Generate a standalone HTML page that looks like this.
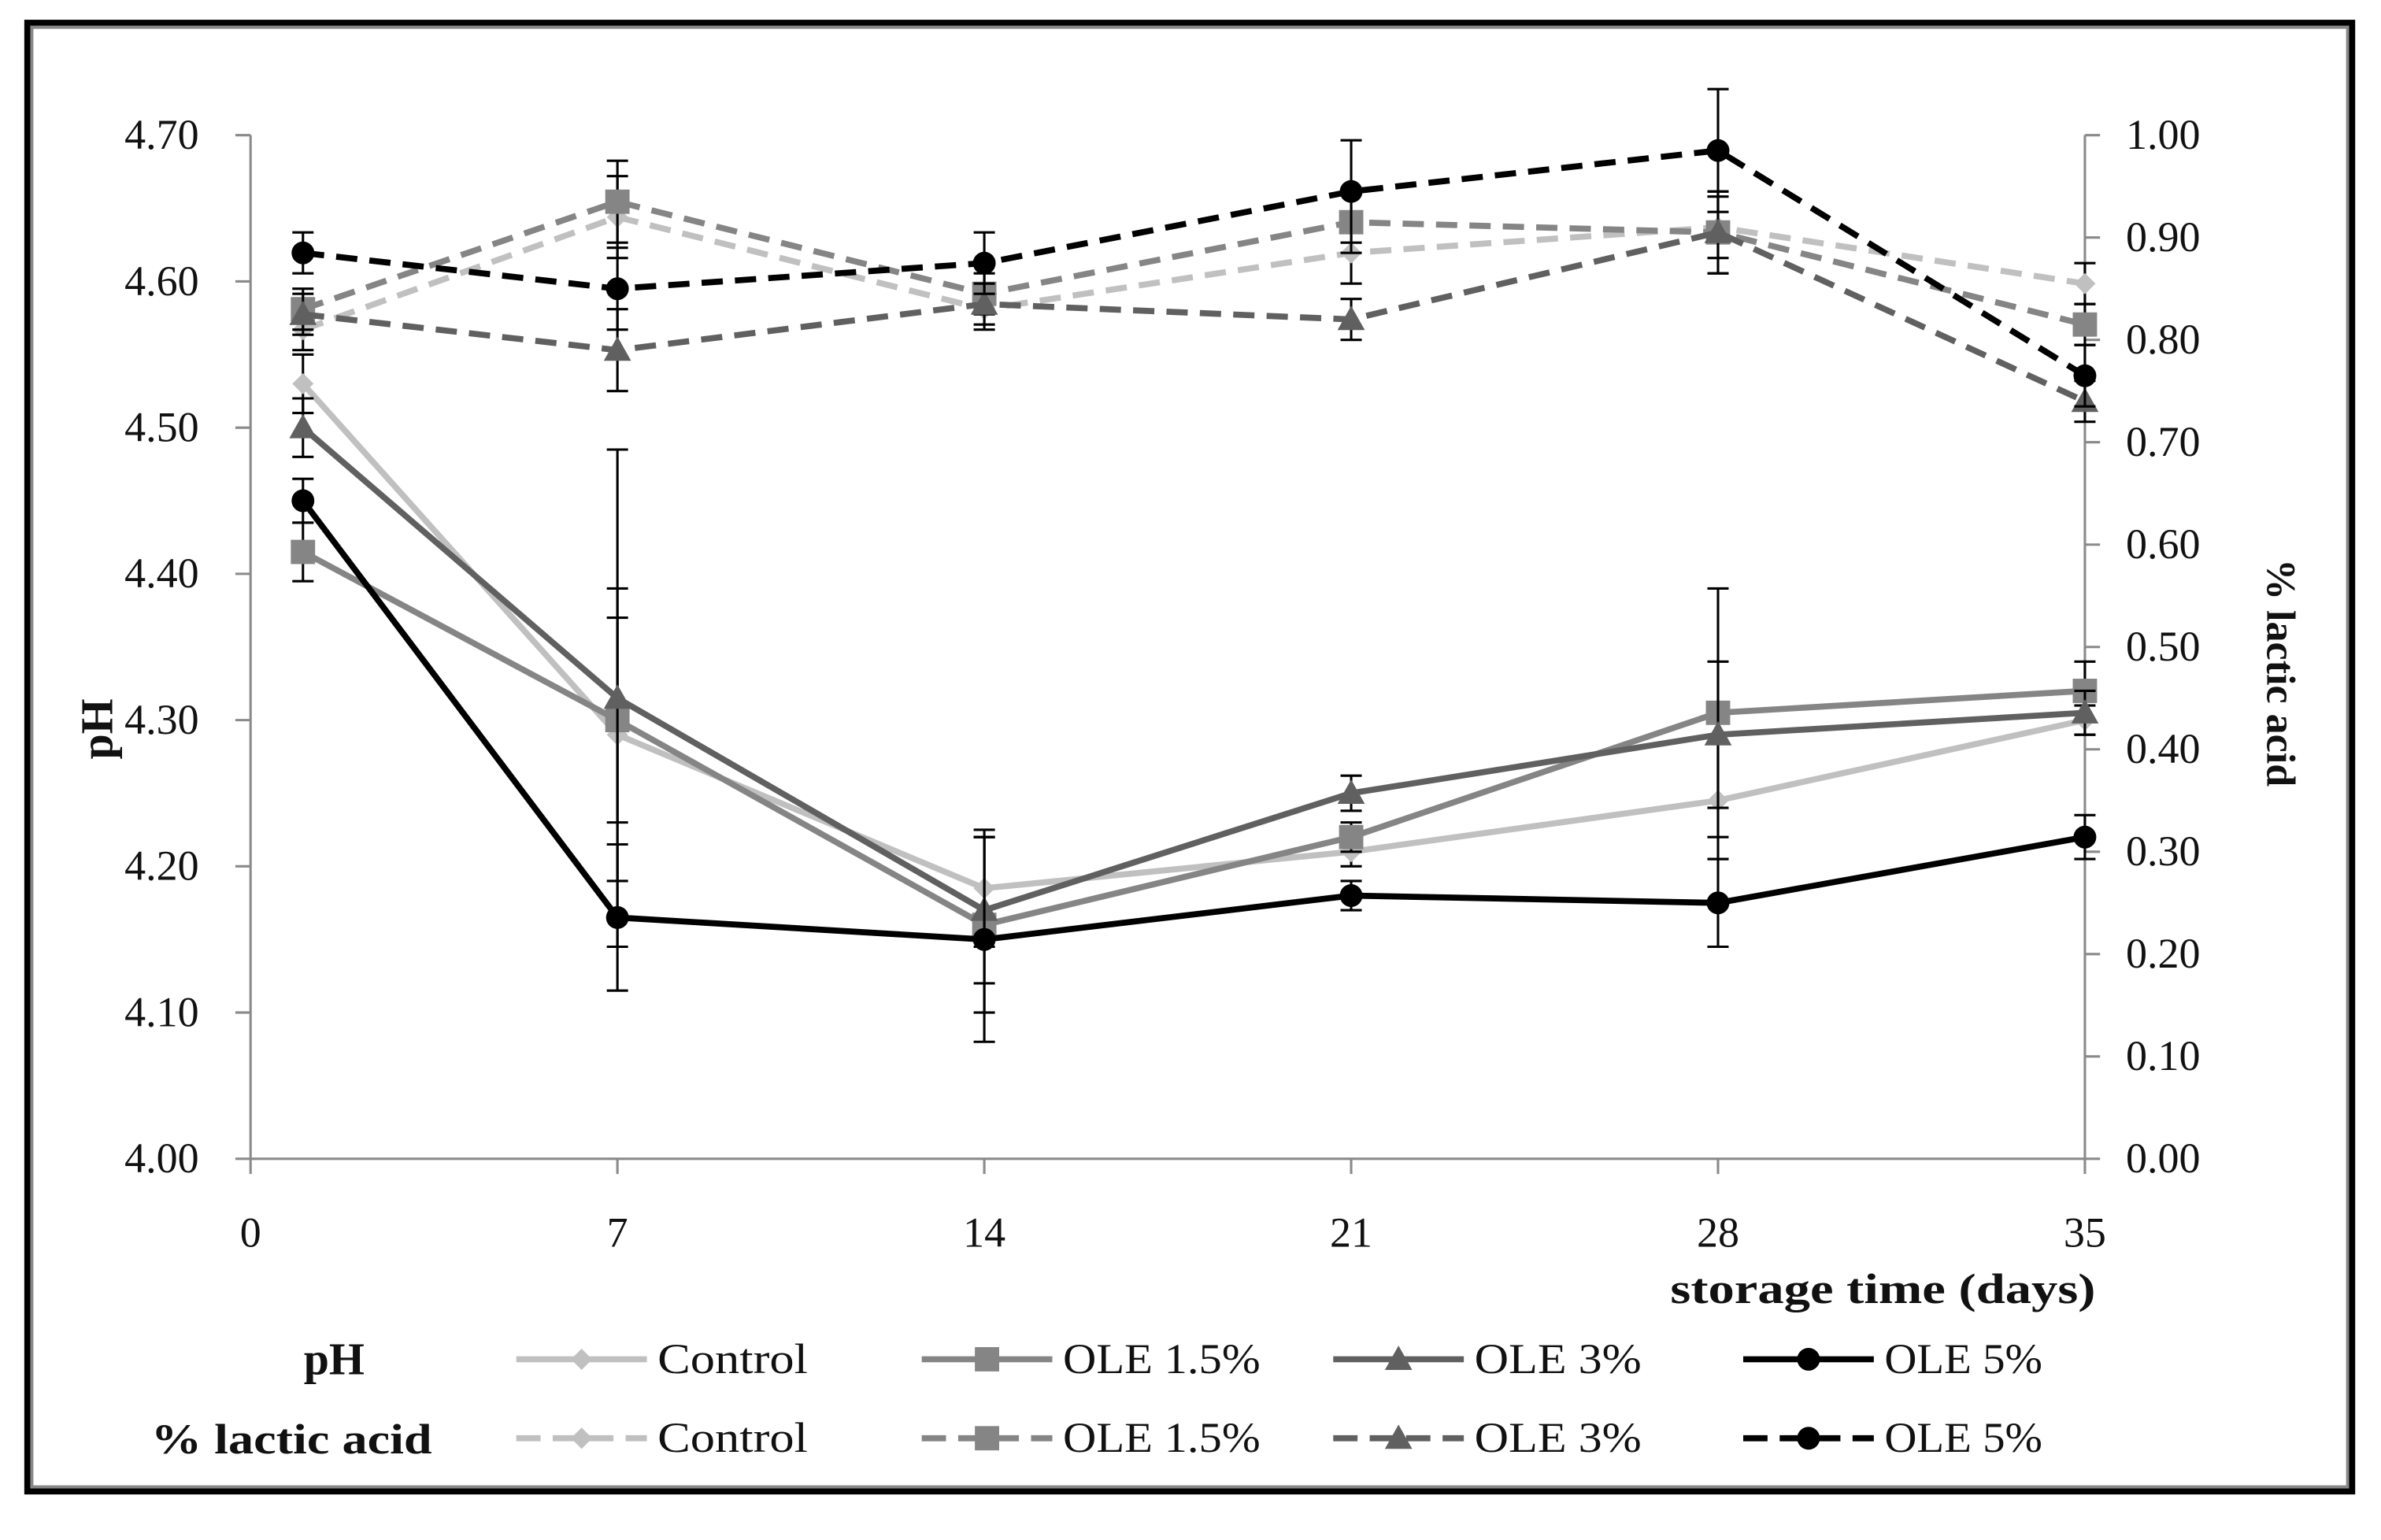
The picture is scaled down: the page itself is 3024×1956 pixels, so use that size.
<!DOCTYPE html>
<html><head><meta charset="utf-8"><style>
html,body{margin:0;padding:0;background:#fff;}
svg{display:block;}
text{font-family:"Liberation Serif",serif;fill:#111;}
</style></head><body>
<svg id="chart" width="3024" height="1956" viewBox="0 0 1568 1014" preserveAspectRatio="none" xmlns="http://www.w3.org/2000/svg">
<rect x="18" y="15" width="1531" height="967" fill="#fff" stroke="#000" stroke-width="4"/>
<rect x="21" y="18" width="1525" height="961" fill="none" stroke="#888" stroke-width="2"/>
<g id="axes"></g>
<g id="series"></g>
<g id="legend"></g>
</svg>
<script>
const days = [1, 7, 14, 21, 28, 35];
const xTicks = [0, 7, 14, 21, 28, 35];
const phTicks = ["4.00","4.10","4.20","4.30","4.40","4.50","4.60","4.70"];
const laTicks = ["0.00","0.10","0.20","0.30","0.40","0.50","0.60","0.70","0.80","0.90","1.00"];
const seriesNames = ["Control","OLE 1.5%","OLE 3%","OLE 5%"];
const phControl = [4.53, 4.29, 4.185, 4.21, 4.245, 4.30];
const phOle15 = [4.415, 4.30, 4.16, 4.22, 4.305, 4.32];
const phOle3 = [4.50, 4.315, 4.17, 4.25, 4.29, 4.305];
const phOle5 = [4.45, 4.165, 4.15, 4.18, 4.175, 4.22];
const phErrControl = [0.02, 0.10, 0.04, 0.01, 0.04, 0.01];
const phErrOle15 = [0.02, 0.07, 0.06, 0.01, 0.085, 0.02];
const phErrOle3 = [0.02, 0.17, 0.05, 0.012, 0.05, 0.015];
const phErrOle5 = [0.015, 0.05, 0.07, 0.01, 0.03, 0.015];
const laControl = [0.81, 0.92, 0.83, 0.885, 0.91, 0.855];
const laOle15 = [0.83, 0.935, 0.845, 0.915, 0.905, 0.815];
const laOle3 = [0.825, 0.79, 0.835, 0.82, 0.905, 0.74];
const laOle5 = [0.885, 0.85, 0.875, 0.945, 0.985, 0.765];
const laErrControl = [0.02, 0.04, 0.02, 0.03, 0.03, 0.02];
const laErrOle15 = [0.02, 0.04, 0.02, 0.03, 0.04, 0.02];
const laErrOle3 = [0.02, 0.04, 0.02, 0.02, 0.04, 0.02];
const laErrOle5 = [0.02, 0.04, 0.03, 0.05, 0.06, 0.03];

const NS = "http://www.w3.org/2000/svg";
const X0 = 165, X1 = 1373, YB = 763, YT = 89;
const xs = d => X0 + (d / 35) * (X1 - X0);
const yPh = v => YB - (v - 4.0) / 0.7 * (YB - YT);
const yLa = v => YB - v * (YB - YT);
function mk(tag, attrs, parent) {
  const e = document.createElementNS(NS, tag);
  for (const k in attrs) e.setAttribute(k, attrs[k]);
  parent.appendChild(e);
  return e;
}
const axes = document.getElementById('axes');
const AX = '#8a8a8a';
let el;
el = mk('line', {x1: X0, y1: YT, x2: X0, y2: YB, stroke: AX, 'stroke-width': 1.6}, axes);


el = mk('line', {x1: X1, y1: YT, x2: X1, y2: YB, stroke: AX, 'stroke-width': 1.6}, axes);


el = mk('line', {x1: X0, y1: YB, x2: X1, y2: YB, stroke: AX, 'stroke-width': 1.6}, axes);


phTicks.forEach(t => {
  const y = yPh(parseFloat(t));
  mk('line', {x1: X0 - 10, y1: y, x2: X0, y2: y, stroke: AX, 'stroke-width': 1.6}, axes);
  el = mk('text', {x: 131, y: y + 9, 'text-anchor': 'end', 'font-size': 28}, axes);
  el.textContent = t;
  
  
});
laTicks.forEach(t => {
  const y = yLa(parseFloat(t));
  mk('line', {x1: X1, y1: y, x2: X1 + 10, y2: y, stroke: AX, 'stroke-width': 1.6}, axes);
  el = mk('text', {x: 1400, y: y + 9, 'font-size': 28}, axes);
  el.textContent = t;
  
  
});
xTicks.forEach(t => {
  const x = xs(t);
  mk('line', {x1: x, y1: YB, x2: x, y2: YB + 10, stroke: AX, 'stroke-width': 1.6}, axes);
  el = mk('text', {x: x, y: 821, 'text-anchor': 'middle', 'font-size': 28}, axes);
  el.textContent = t;
  
  
});
el = mk('text', {x: 1380, y: 858, 'text-anchor': 'end', 'font-size': 28, 'font-weight': 'bold', textLength: 280, lengthAdjust: 'spacingAndGlyphs'}, axes);
el.textContent = 'storage time (days)';


el = mk('text', {x: 0, y: 0, 'text-anchor': 'middle', 'font-size': 30, 'font-weight': 'bold', transform: 'translate(74,480) rotate(-90)'}, axes);
el.textContent = 'pH';


el = mk('text', {x: 0, y: 0, 'text-anchor': 'middle', 'font-size': 27, 'font-weight': 'bold', transform: 'translate(1493,443) rotate(90)'}, axes);
el.textContent = '% lactic acid';



const colors = ['#c0c0c0', '#858585', '#606060', '#000000'];
const markers = ['diamond', 'square', 'triangle', 'circle'];
function marker(g, type, x, y, c) {
  if (type === 'diamond') return mk('path', {d: `M${x} ${y-7}L${x+7} ${y}L${x} ${y+7}L${x-7} ${y}Z`, fill: c}, g);
  if (type === 'square') return mk('rect', {x: x - 8, y: y - 8, width: 16, height: 16, fill: c}, g);
  if (type === 'triangle') return mk('path', {d: `M${x} ${y-9}L${x+9} ${y+7}L${x-9} ${y+7}Z`, fill: c}, g);
  return mk('circle', {cx: x, cy: y, r: 7.5, fill: c}, g);
}
const seriesG = document.getElementById('series');
const phData = [phControl, phOle15, phOle3, phOle5];
const phErr = [phErrControl, phErrOle15, phErrOle3, phErrOle5];
const laData = [laControl, laOle15, laOle3, laOle5];
const laErr = [laErrControl, laErrOle15, laErrOle3, laErrOle5];
function drawSeries(data, err, yf, dashed, prefix) {
  data.forEach((vals, i) => {
    const g = mk('g', {}, seriesG);
    
    
    const pts = vals.map((v, j) => xs(days[j]) + ',' + yf(v)).join(' ');
    const attrs = {points: pts, fill: 'none', stroke: colors[i], 'stroke-width': 4, 'stroke-linejoin': 'round'};
    if (dashed) attrs['stroke-dasharray'] = '14 8';
    mk('polyline', attrs, g);
    vals.forEach((v, j) => {
      const x = xs(days[j]);
      const y1 = yf(v + err[i][j]), y2 = yf(v - err[i][j]);
      mk('line', {x1: x, y1: y1, x2: x, y2: y2, stroke: '#000', 'stroke-width': 1.6}, g);
      mk('line', {x1: x - 7, y1: y1, x2: x + 7, y2: y1, stroke: '#000', 'stroke-width': 1.6}, g);
      mk('line', {x1: x - 7, y1: y2, x2: x + 7, y2: y2, stroke: '#000', 'stroke-width': 1.6}, g);
      const m = marker(g, markers[i], x, yf(v), colors[i]);
      
      
    });
  });
}
drawSeries(laData, laErr, yLa, true, 'lactic');
drawSeries(phData, phErr, yPh, false, 'ph');

const legendG = document.getElementById('legend');
el = mk('text', {x: 220, y: 905, 'text-anchor': 'middle', 'font-size': 30, 'font-weight': 'bold'}, legendG);
el.textContent = 'pH';


el = mk('text', {x: 192, y: 957, 'text-anchor': 'middle', 'font-size': 28, 'font-weight': 'bold', textLength: 185, lengthAdjust: 'spacingAndGlyphs'}, legendG);
el.textContent = '% lactic acid';


const legX = [340, 607, 878, 1148];
const legW = [99, 130, 110, 104];
[0, 1].forEach(r => {
  const y = r === 0 ? 895 : 947;
  seriesNames.forEach((n, i) => {
    const g = mk('g', {}, legendG);
    
    
    const a = {x1: legX[i], y1: y, x2: legX[i] + 86, y2: y, stroke: colors[i], 'stroke-width': 4};
    if (r === 1) a['stroke-dasharray'] = '16 8';
    mk('line', a, g);
    marker(g, markers[i], legX[i] + 43, y, colors[i]);
    const t = mk('text', {x: legX[i] + 93, y: y + 9, 'font-size': 28, textLength: legW[i], lengthAdjust: 'spacingAndGlyphs'}, g);
    t.textContent = n;
  });
});
</script>
</body></html>
